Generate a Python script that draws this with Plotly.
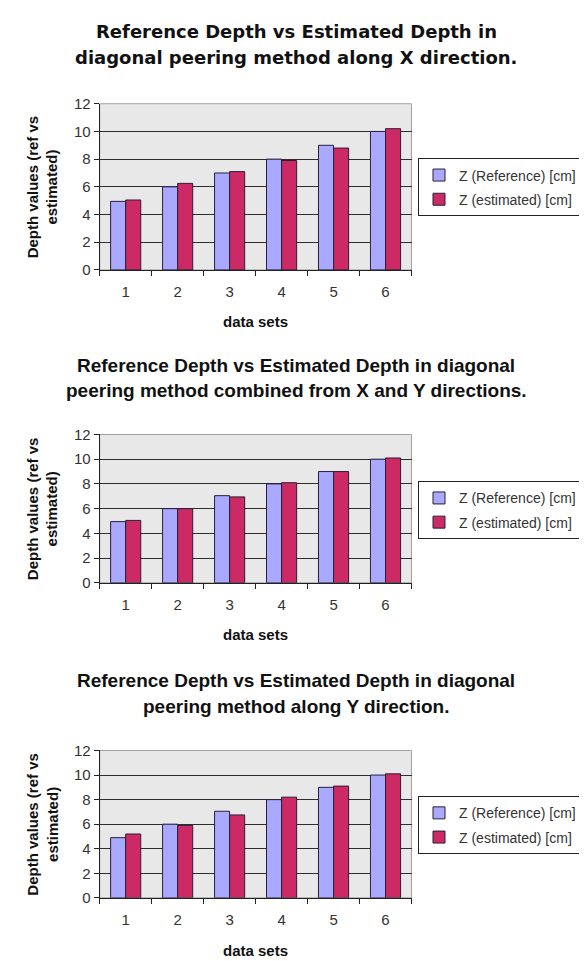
import plotly.graph_objects as go

# ---- data ----
categories = ["1", "2", "3", "4", "5", "6"]
ref_x = [4.95, 6, 7, 8, 9, 10]
est_x = [5.05, 6.25, 7.1, 7.9, 8.8, 10.2]
ref_xy = [4.95, 6, 7.05, 8, 9, 10]
est_xy = [5.05, 6, 6.95, 8.1, 9, 10.1]
ref_y = [4.9, 6, 7.05, 8, 9, 10]
est_y = [5.2, 5.9, 6.75, 8.2, 9.1, 10.1]
series_names = ["Z (Reference) [cm]", "Z (estimated) [cm]"]
titles = [
    ["Reference Depth vs Estimated Depth in", "diagonal peering method along X direction."],
    ["Reference Depth vs Estimated Depth in diagonal", "peering method combined from X and Y directions."],
    ["Reference Depth vs Estimated Depth in diagonal", "peering method along Y direction."],
]
x_title = "data sets"
y_title = "Depth values (ref vs<br>estimated)"
y_ticks = [0, 2, 4, 6, 8, 10, 12]

# ---- style / layout ----
W, H = 587, 961
FONT = "Arial, Liberation Sans, sans-serif"
TITLE_FONTS = [("DejaVu Sans, Arial, sans-serif", 18),
               (FONT, 19), (FONT, 19)]
REF_COLOR = "#A9A9FF"
EST_COLOR = "#CC2A64"
OUTLINE = "#2A1E3A"

def py(px):
    return 1 - px / H

def pxx(px):
    return px / W

plot_left, plot_right = 91.7, 403.5
plots = [  # (top px, bottom px)
    (88.3, 257.5),
    (425.0, 576.0),
    (746.7, 896.7),
]
title_lines_px = [(15, 41.7), (355, 380.5), (675, 701.5)]
xtitle_px = [310, 628.5, 950]
legend_top_px = [144, 472.7, 793.3]

data_sets = [(ref_x, est_x), (ref_xy, est_xy), (ref_y, est_y)]

fig = go.Figure()
annotations = []
shapes = []
for i, (refv, estv) in enumerate(data_sets):
    idx = "" if i == 0 else str(i + 1)
    xa = "x" + idx
    ya = "y" + idx
    leg = "legend" + idx
    fig.add_trace(go.Bar(x=categories, y=refv, name=series_names[0], xaxis=xa, yaxis=ya,
                         marker=dict(color=REF_COLOR, line=dict(color=OUTLINE, width=1)),
                         legend=leg, legendgroup=f"r{i}"))
    fig.add_trace(go.Bar(x=categories, y=estv, name=series_names[1], xaxis=xa, yaxis=ya,
                         marker=dict(color=EST_COLOR, line=dict(color=OUTLINE, width=1)),
                         legend=leg, legendgroup=f"e{i}"))
    top, bot = plots[i]
    fig.update_layout(**{
        "xaxis" + idx: dict(
            domain=[pxx(plot_left), pxx(plot_right)], anchor=ya, type="category",
            showline=True, linecolor="#222222", linewidth=1,
            ticks="outside", ticklen=5, tickcolor="#222222", tickson="boundaries",
            ticklabelstandoff=8,
            tickfont=dict(family=FONT, size=15, color="#333333"),
            showgrid=False, zeroline=False, fixedrange=True,
        ),
        "yaxis" + idx: dict(
            domain=[py(bot), py(top)], anchor=xa, range=[0, 12],
            tickvals=y_ticks, ticks="outside", ticklen=5, tickcolor="#222222",
            showline=True, linecolor="#222222", linewidth=1,
            showgrid=True, gridcolor="#2E2E2E", gridwidth=1, zeroline=False,
            tickfont=dict(family=FONT, size=15, color="#333333"),
            fixedrange=True,
        ),
        leg: dict(
            x=pxx(410), y=py(legend_top_px[i]), xanchor="left", yanchor="top",
            bordercolor="#222222", borderwidth=1, bgcolor="white",
            font=dict(family=FONT, size=14, color="#333333"),
            tracegroupgap=3, itemwidth=30,
        ),
    })
    # frame around plot area (top/right light gray)
    shapes.append(dict(type="rect", xref=xa + " domain", yref=ya + " domain",
                       x0=0, x1=1, y0=0, y1=1, line=dict(color="#A0A0A0", width=1),
                       layer="below"))
    # titles
    tf, ts = TITLE_FONTS[i]
    for ln, ypx in zip(titles[i], title_lines_px[i]):
        annotations.append(dict(text="<b>" + ln + "</b>", xref="paper", yref="paper",
                                x=pxx(288), y=py(ypx), xanchor="center", yanchor="middle",
                                showarrow=False, font=dict(family=tf, size=ts, color="#111111")))
    annotations.append(dict(text="<b>" + x_title + "</b>", xref="paper", yref="paper",
                            x=pxx((plot_left + plot_right) / 2), y=py(xtitle_px[i]),
                            xanchor="center", yanchor="middle", showarrow=False,
                            font=dict(family=FONT, size=15, color="#111111")))
    annotations.append(dict(text="<b>" + y_title + "</b>", xref="paper", yref="paper",
                            x=pxx(34.5), y=py((top + bot) / 2), textangle=-90,
                            xanchor="center", yanchor="middle", showarrow=False,
                            font=dict(family=FONT, size=15, color="#111111")))

fig.update_layout(
    width=W, height=H, margin=dict(l=0, r=0, t=0, b=0),
    paper_bgcolor="white", plot_bgcolor="#E8E8E8",
    barmode="group", bargap=0.42, bargroupgap=0,
    annotations=annotations, shapes=shapes,
    font=dict(family=FONT),
)

fig.write_html("out.html")
